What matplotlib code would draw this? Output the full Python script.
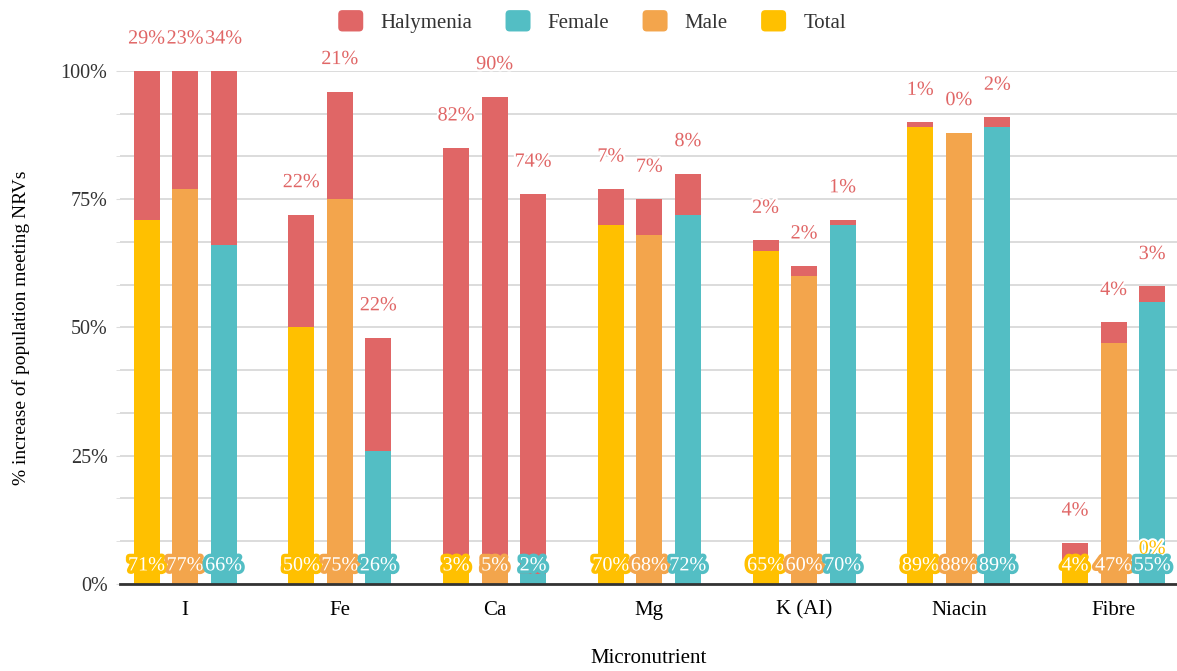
import numpy as np
import matplotlib.pyplot as plt
import matplotlib.patheffects as pe
from matplotlib.ticker import MultipleLocator, PercentFormatter
from matplotlib.patches import Patch, FancyBboxPatch
from matplotlib.legend_handler import HandlerPatch

plt.rcParams['font.family'] = ['Liberation Serif', 'DejaVu Serif']

nutrients = ["I", "Fe", "Ca", "Mg", "K (AI)", "Niacin", "Fibre"]

# baseline share meeting NRVs (%)
total = [71, 50, 3, 70, 65, 89, 4]
male = [77, 75, 5, 68, 60, 88, 47]
female = [66, 26, 2, 72, 70, 89, 55]

# extra share reached with Halymenia (%), one list per group
haly_total = [29, 22, 82, 7, 2, 1, 4]
haly_male = [23, 21, 90, 7, 2, 0, 4]
haly_female = [34, 22, 74, 8, 1, 2, 3]

RED = "#E06666"
TEAL = "#53BEC4"
ORANGE = "#F3A54C"
YELLOW = "#FFC000"


class RoundSquare(HandlerPatch):
    def create_artists(self, legend, orig_handle, xdescent, ydescent,
                       width, height, fontsize, trans):
        p = FancyBboxPatch((-xdescent, -ydescent), width, height,
                           boxstyle="round,pad=0,rounding_size=3",
                           facecolor=orig_handle.get_facecolor(),
                           edgecolor="none", transform=trans)
        return [p]


fig = plt.figure(figsize=(11.77, 6.71), dpi=100)
ax = fig.add_axes([0.102, 0.1297, 0.898, 0.7645])

x = np.arange(len(nutrients))
w = 0.168
step = 0.249

series = [
    (total, haly_total, YELLOW, -step),
    (male, haly_male, ORANGE, 0.0),
    (female, haly_female, TEAL, step),
]

for base, extra, col, off in series:
    base = np.array(base) / 100
    extra = np.array(extra) / 100
    ax.bar(x + off, base + extra, w, color=RED, zorder=2)
    ax.bar(x + off, base, w, color=col, zorder=3)
    for xi, b, e in zip(x + off, base, extra):
        # value of the base series, white with a coloured halo
        ax.annotate(f"{b*100:.0f}%", (xi, 0), xytext=(0, 13), textcoords="offset points",
                    ha="center", va="center", fontsize=14.5, color="white", zorder=6,
                    path_effects=[pe.withStroke(linewidth=5, foreground=col)],
                    annotation_clip=False)
        ax.annotate(f"{e*100:.0f}%", (xi, b + e), xytext=(0, 23), textcoords="offset points",
                    ha="center", va="center", fontsize=14.5, color=RED, zorder=6,
                    path_effects=[pe.withStroke(linewidth=3, foreground="white")],
                    annotation_clip=False)

# stray zero label sitting on the Fibre female bar
ax.annotate("0%", (x[6] + step, 0), xytext=(0, 25), textcoords="offset points",
            ha="center", va="center", fontsize=14.5, color=YELLOW, zorder=5,
            path_effects=[pe.withStroke(linewidth=3, foreground="white")])

ax.set_xlim(-0.42, 6.41)
ax.set_ylim(0, 1.0)
ax.yaxis.set_major_locator(MultipleLocator(0.25))
ax.yaxis.set_minor_locator(MultipleLocator(1 / 12))
ax.yaxis.set_major_formatter(PercentFormatter(1.0, decimals=0))
ax.grid(axis="y", which="both", color="#dcdcdc", linewidth=1.4, zorder=0)
ax.set_axisbelow(True)
ax.tick_params(axis="y", which="both", length=3, color="#dcdcdc", labelsize=14.5,
               labelcolor="#333333", pad=6)
ax.tick_params(axis="x", length=0, labelsize=15, pad=12)
ax.set_xticks(x)
ax.set_xticklabels(nutrients)

for s in ["top", "right", "left"]:
    ax.spines[s].set_visible(False)
ax.spines["bottom"].set_color("#333333")
ax.spines["bottom"].set_linewidth(2)
ax.spines["bottom"].set_zorder(4)

ax.set_xlabel("Micronutrient", fontsize=15, labelpad=21)
ax.set_ylabel("% increase of population meeting NRVs", fontsize=14, labelpad=22)

handles = [Patch(facecolor=c, edgecolor=c) for c in [RED, TEAL, ORANGE, YELLOW]]
fig.legend(handles, ["Halymenia", "Female", "Male", "Total"], loc="center",
           bbox_to_anchor=(0.503, 0.968), ncol=4, frameon=False, fontsize=15,
           handlelength=1.2, handleheight=1.2, columnspacing=1.6, handletextpad=0.82,
           labelcolor="#333333", handler_map={Patch: RoundSquare()})

fig.savefig("out.png", dpi=100)
